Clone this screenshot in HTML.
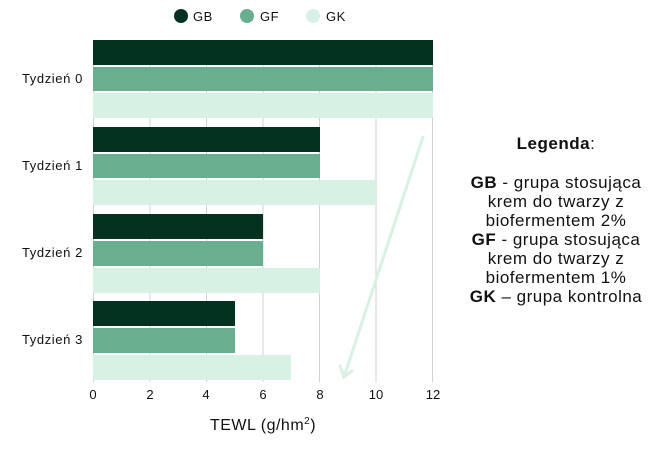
<!DOCTYPE html>
<html><head><meta charset="utf-8"><style>
body{margin:0;background:#fff;width:670px;height:451px;overflow:hidden;font-family:"Liberation Sans",sans-serif;}
</style></head><body>
<svg width="670" height="451" xmlns="http://www.w3.org/2000/svg" font-family="Liberation Sans, sans-serif">
<g stroke="#d0d0d0" stroke-width="1">
<line x1="93.5" y1="40" x2="93.5" y2="382"/>
<line x1="150" y1="40" x2="150" y2="382"/>
<line x1="206.5" y1="40" x2="206.5" y2="382"/>
<line x1="263" y1="40" x2="263" y2="382"/>
<line x1="319.5" y1="40" x2="319.5" y2="382"/>
<line x1="376" y1="40" x2="376" y2="382"/>
<line x1="432.5" y1="40" x2="432.5" y2="382"/>
</g>
<g>
<rect x="93" y="40" width="340" height="25" fill="#033220"/>
<rect x="93" y="67" width="340" height="24" fill="#6aae90"/>
<rect x="93" y="93" width="340" height="25" fill="#d8f1e5"/>
<rect x="93" y="127" width="227" height="25" fill="#033220"/>
<rect x="93" y="154" width="227" height="24" fill="#6aae90"/>
<rect x="93" y="180" width="283" height="25" fill="#d8f1e5"/>
<rect x="93" y="214" width="170" height="25" fill="#033220"/>
<rect x="93" y="241" width="170" height="25" fill="#6aae90"/>
<rect x="93" y="268" width="227" height="25" fill="#d8f1e5"/>
<rect x="93" y="301" width="142" height="25" fill="#033220"/>
<rect x="93" y="328" width="142" height="25" fill="#6aae90"/>
<rect x="93" y="355" width="198" height="25" fill="#d8f1e5"/>
</g>
<g stroke="#d8f1e5" stroke-width="3" fill="none" stroke-linecap="round">
<line x1="423" y1="137" x2="344" y2="377"/>
<polyline points="340,366 344,377 352,371"/>
</g>
<g font-size="13" text-anchor="end" fill="#111" letter-spacing="0.6">
<text x="83" y="83">Tydzień 0</text>
<text x="83" y="170">Tydzień 1</text>
<text x="83" y="257">Tydzień 2</text>
<text x="83" y="344">Tydzień 3</text>
</g>
<g font-size="13" text-anchor="middle" fill="#111">
<text x="93" y="399">0</text><text x="150" y="399">2</text><text x="206" y="399">4</text>
<text x="263" y="399">6</text><text x="320" y="399">8</text><text x="376" y="399">10</text><text x="433" y="399">12</text>
<text x="263" y="430" font-size="16" letter-spacing="0.5">TEWL (g/hm<tspan font-size="10" dy="-6">2</tspan><tspan dy="6">)</tspan></text>
</g>
<g font-size="13" fill="#111" letter-spacing="0.5">
<circle cx="181" cy="16" r="7" fill="#033220"/><text x="193" y="21">GB</text>
<circle cx="247" cy="16" r="7" fill="#6aae90"/><text x="260" y="21">GF</text>
<circle cx="313" cy="16" r="7" fill="#d8f1e5"/><text x="326" y="21">GK</text>
</g>
<g font-size="17" text-anchor="middle" fill="#111" letter-spacing="0.5">
<text x="556" y="149"><tspan font-weight="bold">Legenda</tspan>:</text>
<text x="556" y="188"><tspan font-weight="bold">GB</tspan> - grupa stosująca</text>
<text x="556" y="207">krem do twarzy z</text>
<text x="556" y="226">biofermentem 2%</text>
<text x="556" y="245"><tspan font-weight="bold">GF</tspan> - grupa stosująca</text>
<text x="556" y="264">krem do twarzy z</text>
<text x="556" y="283">biofermentem 1%</text>
<text x="556" y="302"><tspan font-weight="bold">GK</tspan> – grupa kontrolna</text>
</g>
</svg>
</body></html>
